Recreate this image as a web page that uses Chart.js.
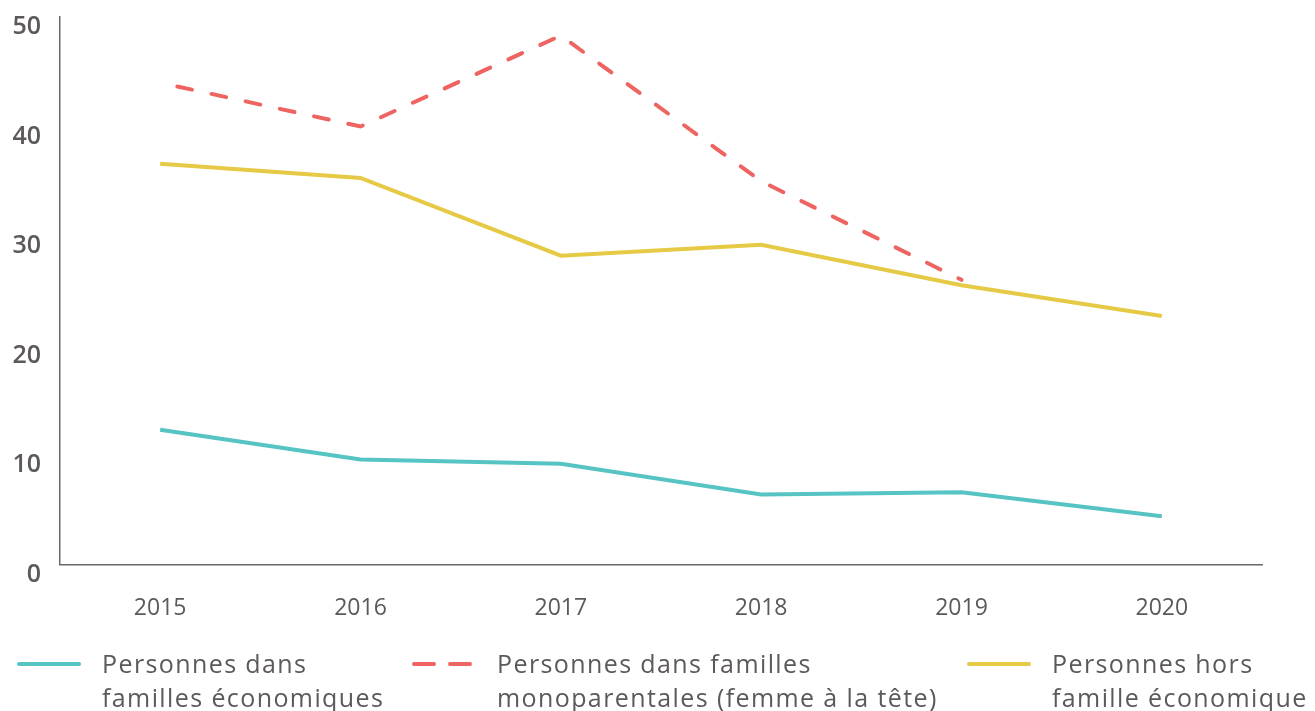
<!DOCTYPE html>
<html>
<head>
<meta charset="utf-8">
<script src="https://cdn.jsdelivr.net/npm/chart.js@4/dist/chart.umd.min.js"></script>
<style>
  html, body { margin: 0; padding: 0; background: #fff; }
  #wrap { position: relative; width: 1315px; height: 711px; overflow: hidden; }
  #chart { position: absolute; left: 0; top: 0; }
  .legend-item { position: absolute; top: 646px; }
  .legend-item svg { position: absolute; left: 0; top: 13px; }
  .legend-item span {
    position: absolute; top: 0; white-space: nowrap;
    font-family: "Open Sans", sans-serif; font-size: 25px; line-height: 34px;
    letter-spacing: 1.4px; color: #5d585a;
  }
</style>
</head>
<body>
<div id="wrap">
  <canvas id="chart" width="1315" height="711"></canvas>

  <div class="legend-item" style="left:15px">
    <svg width="70" height="10"><line x1="4" y1="5" x2="64" y2="5" stroke="#55c4c3" stroke-width="4" stroke-linecap="round"/></svg>
    <span style="left:87px">Personnes dans<br>familles économiques</span>
  </div>
  <div class="legend-item" style="left:410px">
    <svg width="70" height="10"><line x1="4" y1="5" x2="24" y2="5" stroke="#ee6461" stroke-width="4" stroke-linecap="round"/><line x1="40" y1="5" x2="60" y2="5" stroke="#ee6461" stroke-width="4" stroke-linecap="round"/></svg>
    <span style="left:87px">Personnes dans familles<br>monoparentales (femme à la tête)</span>
  </div>
  <div class="legend-item" style="left:965px">
    <svg width="70" height="10"><line x1="4" y1="5" x2="64" y2="5" stroke="#e6c944" stroke-width="4" stroke-linecap="round"/></svg>
    <span style="left:87px">Personnes hors<br>famille économique</span>
  </div>
</div>

<script>
// Chart data
const years = ['2015', '2016', '2017', '2018', '2019', '2020'];
const familles = [12.3, 9.6, 9.2, 6.4, 6.6, 4.4];
const monoparentales = [44.0, 40.0, 48.3, 35.0, 26.0, null];
const horsFamille = [36.6, 35.3, 28.2, 29.2, 25.5, 22.7];
const yTicks = [0, 10, 20, 30, 40, 50];

const axisColor = '#6e6769';
const textColor = '#5d585a';

const ctx = document.getElementById('chart').getContext('2d');

new Chart(ctx, {
    type: 'line',
    data: {
        labels: years,
        datasets: [
            {
                label: 'Personnes dans familles économiques',
                data: familles,
                borderColor: '#55c4c3',
                borderWidth: 4,
                pointRadius: 0,
                tension: 0
            },
            {
                label: 'Personnes dans familles monoparentales (femme à la tête)',
                data: monoparentales,
                borderColor: '#ee6461',
                borderWidth: 4,
                borderDash: [15, 20],
                borderDashOffset: 17.5,
                borderCapStyle: 'round',
                pointRadius: 0,
                tension: 0
            },
            {
                label: 'Personnes hors famille économique',
                data: horsFamille,
                borderColor: '#e6c944',
                borderWidth: 4,
                pointRadius: 0,
                tension: 0
            }
        ]
    },
    options: {
        responsive: false,
        animation: false,
        layout: {
            padding: { top: 17, right: 53, left: 0, bottom: 0 }
        },
        plugins: {
            legend: { display: false },
            tooltip: { enabled: false }
        },
        scales: {
            x: {
                offset: true,
                grid: { display: false },
                border: { display: true, color: axisColor, width: 1.5 },
                ticks: {
                    color: textColor,
                    padding: 22,
                    font: { family: 'Open Sans', size: 23 }
                },
                afterFit: function (scale) {
                    scale.height = 146.5;
                }
            },
            y: {
                min: 0,
                max: 50,
                grid: { display: false, drawTicks: false },
                border: { display: true, color: axisColor, width: 1.5 },
                afterBuildTicks: function (scale) {
                    scale.ticks = yTicks.map(v => ({ value: v }));
                },
                ticks: {
                    color: textColor,
                    padding: 19,
                    labelOffset: 10,
                    font: { family: 'Open Sans', size: 25, weight: '600' }
                },
                afterFit: function (scale) {
                    scale.width = 60;
                    // labels are shifted down, no extra room needed above the axis
                    scale.paddingTop = 0;
                    scale.paddingBottom = 0;
                }
            }
        }
    }
});
</script>
</body>
</html>
